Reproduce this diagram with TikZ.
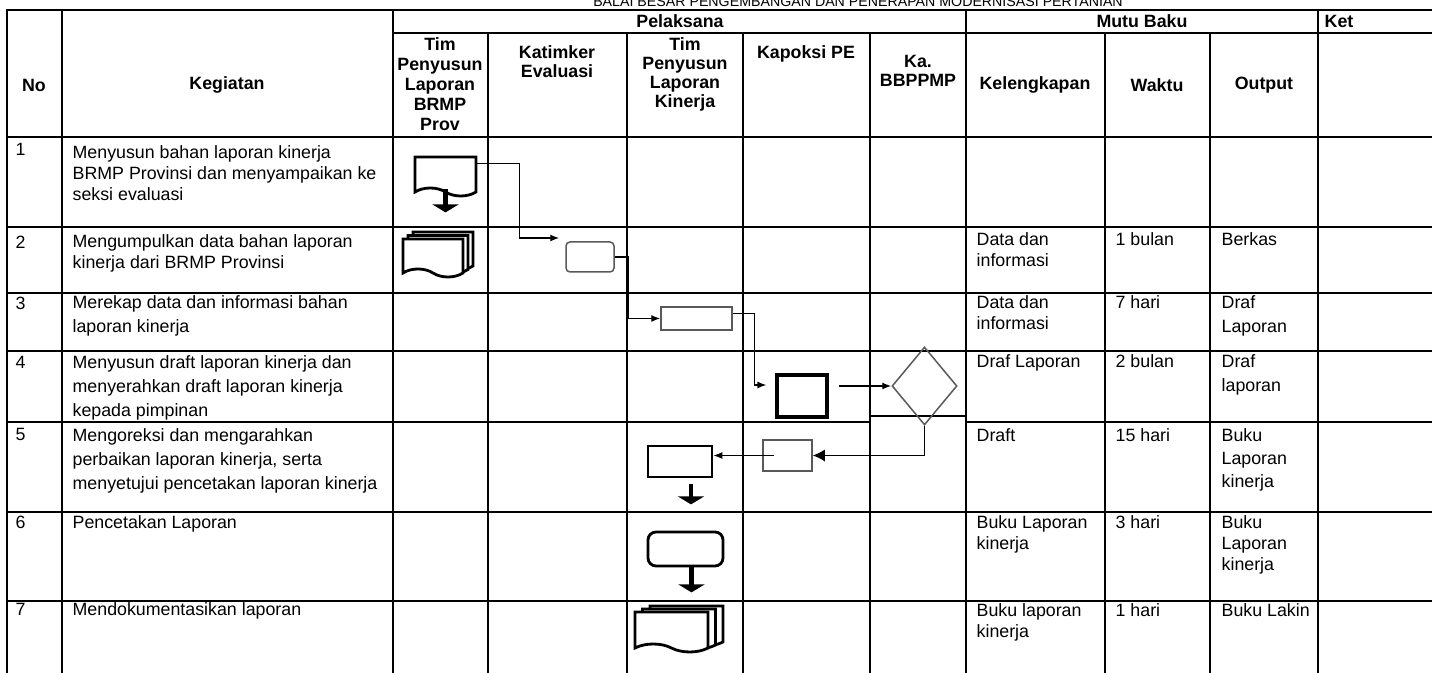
\documentclass[tikz,border=0pt]{standalone}
\usepackage{fontspec}
\setmainfont{Liberation Sans}
\usetikzlibrary{%
  arrows,%
  arrows.meta,%
  shapes,%
  shapes.geometric,% wg. diamond
  shapes.symbols,% wg. tape (dokumen)
  shadows,% wg. copy shadow
  positioning%
}

\begin{document}
\begin{tikzpicture}
  [
  x=0.5pt, y=-0.5pt,
  font=\fontsize{8.9}{10.5}\selectfont, line width=0.65pt, >={Latex[length=4.5pt,width=3.5pt]},
  grid/.style={line width=1pt, draw=black, line cap=rect},
  head/.style={font=\fontsize{8.9}{9.5}\selectfont\bfseries, align=center, inner sep=0pt},
  cell/.style={anchor=north west, align=left, inner sep=0pt},
  widecell/.style={cell, font=\fontsize{8.9}{12}\selectfont},
  doc/.style={tape, tape bend top=none, tape bend bottom=out and in, tape bend height=4pt, draw=black, line width=1.4pt, fill=white, inner sep=0pt},
  docstack/.style={doc, double copy shadow={draw=black, line width=1.4pt, fill=white, #1}},
  proc/.style={rectangle, draw=black!65, line width=0.75pt, inner sep=0pt},
  procb/.style={rectangle, draw=black, line width=1.4pt, inner sep=0pt},
  decide/.style={diamond, draw=black!65, line width=0.75pt, inner sep=0pt},
  bigflow/.style={-{Latex[length=6pt,width=6pt]}},
  down/.style={line width=2.4pt, -{Triangle[width=13pt,length=4pt]}}
  ]
\useasboundingbox (0,0) rectangle (1432,673);

% judul (terpotong di atas)
\node[font=\fontsize{7.1}{8}\selectfont, anchor=base, inner sep=0pt] (judul) at (858,7)
  {BALAI BESAR PENGEMBANGAN DAN PENERAPAN MODERNISASI PERTANIAN};

% garis tabel
\draw[grid] (7,10) -- (1432,10);
\draw[grid] (393,33) -- (1432,33);
\foreach \y in {137,227,293,351,512,601} {
  \draw[grid] (7,\y) -- (1432,\y);
}
\draw[grid] (7,422) -- (870,422);
\draw[grid] (870,416) -- (966,416);
\draw[grid] (966,422) -- (1432,422);
\foreach \x in {7,62,393,966,1318} {
  \draw[grid] (\x,10) -- (\x,673);
}
\foreach \x in {488,627,743,870,1105,1210} {
  \draw[grid] (\x,33) -- (\x,673);
}

% kepala tabel
\node[head] (hno) at (34,85) {No};
\node[head] (hkeg) at (227,85) {Kegiatan};
\node[head] (hpel) at (680,21) {Pelaksana};
\node[head] (hmutu) at (1142,21) {Mutu Baku};
\node[head, anchor=west] (hket) at (1324,21) {Ket};
\node[head, anchor=north, font=\fontsize{8.9}{10}\selectfont\bfseries] (hbrmp) at (440,37) {Tim\\Penyusun\\Laporan\\BRMP\\Prov};
\node[head, anchor=north] (heval) at (557,45) {Katimker\\Evaluasi};
\node[head, anchor=north] (hkin) at (685,37) {Tim\\Penyusun\\Laporan\\Kinerja};
\node[head, anchor=north] (hpe) at (806,45) {Kapoksi PE};
\node[head, anchor=north] (hka) at (918,55) {Ka.\\BBPPMP};
\node[head] (hkel) at (1035,85) {Kelengkapan};
\node[head] (hwak) at (1157,85) {Waktu};
\node[head] (hout) at (1264,85) {Output};

% nomor dan kegiatan
\foreach \n/\y in {1/143,2/235,3/296,4/356,5/428,6/515,7/603} {
  \node[cell] (no\n) at (15,\y) {\n};
}
\node[cell] (k1) at (72,145) {Menyusun bahan laporan kinerja\\BRMP Provinsi dan menyampaikan ke\\seksi evaluasi};
\node[cell] (k2) at (72,234) {Mengumpulkan data bahan laporan\\kinerja dari BRMP Provinsi};
\node[widecell] (k3) at (72,295) {Merekap data dan informasi bahan\\laporan kinerja};
\node[widecell] (k4) at (72,355) {Menyusun draft laporan kinerja dan\\menyerahkan draft laporan kinerja\\kepada pimpinan};
\node[widecell] (k5) at (72,428) {Mengoreksi dan mengarahkan\\perbaikan laporan kinerja, serta\\menyetujui pencetakan laporan kinerja};
\node[cell] (k6) at (72,515) {Pencetakan Laporan};
\node[cell] (k7) at (72,602) {Mendokumentasikan laporan};

% mutu baku
\node[cell] (kel2) at (976,232) {Data dan\\informasi};
\node[cell] (kel3) at (976,295) {Data dan\\informasi};
\node[cell] (kel4) at (976,354) {Draf Laporan};
\node[cell] (kel5) at (976,428) {Draft};
\node[cell] (kel6) at (976,515) {Buku Laporan\\kinerja};
\node[cell] (kel7) at (976,603) {Buku laporan\\kinerja};
\foreach \n/\y/\t in {2/232/1 bulan,3/295/7 hari,4/354/2 bulan,5/428/15 hari,6/515/3 hari,7/603/1 hari} {
  \node[cell] (wak\n) at (1115,\y) {\t};
}
\node[cell] (out2) at (1221,232) {Berkas};
\node[widecell] (out3) at (1221,295) {Draf\\Laporan};
\node[widecell] (out4) at (1221,354) {Draf\\laporan};
\node[cell, font=\fontsize{8.9}{11.5}\selectfont] (out5) at (1221,428) {Buku\\Laporan\\kinerja};
\node[cell] (out6) at (1221,515) {Buku\\Laporan\\kinerja};
\node[cell] (out7) at (1221,603) {Buku Lakin};

% simbol alur
\node[doc, minimum width=30.5pt, minimum height=19.5pt] (d1) at (445.5,172.5) {};
\node[docstack={shadow xshift=2.5pt, shadow yshift=1.75pt}, minimum width=30pt, minimum height=19pt] (d2) at (433,254) {};
\node[proc, rounded corners=2pt, minimum width=24pt, minimum height=15pt] (rr2) at (590,257) {};
\node[proc, minimum width=35.5pt, minimum height=11.5pt] (r3) at (696.5,318.5) {};
\node[procb, line width=1.6pt, minimum width=25pt, minimum height=21pt] (r4) at (802,396) {};
\node[decide, minimum width=32.5pt, minimum height=39pt] (dm) at (924.5,386) {};
\node[proc, minimum width=24.5pt, minimum height=15.5pt] (r5b) at (787.5,455.5) {};
\node[procb, minimum width=32pt, minimum height=15.5pt] (r5a) at (680,461.5) {};
\node[procb, rounded corners=4pt, minimum width=37.5pt, minimum height=17pt] (rr6) at (685.5,549) {};
\node[docstack={shadow xshift=3.75pt, shadow yshift=1.5pt}, minimum width=36.5pt, minimum height=20pt] (d7) at (671.5,628) {};

% panah alur
\draw[->] ([yshift=4.5pt]d1.east) -- ++(42,0) |- ([xshift=-3pt,yshift=9.5pt]rr2.west);
\draw[->] (rr2.east) -- ++(14,0) |- (r3.west);
\draw[->] ([yshift=2.5pt]r3.east) -- ++(22,0) |- ([xshift=-4.5pt,yshift=5.5pt]r4.west);
\draw[->] ([xshift=5pt]r4.east |- dm.west) -- (dm.west);
\draw[bigflow] (dm.south) |- (r5b.east);
\draw[->] ([xshift=6pt]r5b.west) -- (r5b.west -| r5a.east);

\draw[down] (d1.south) -- ++(0,23);
\draw[down] ([xshift=5.5pt,yshift=-3pt]r5a.south) -- ++(0,20);
\draw[down] ([xshift=3pt]rr6.south) -- ++(0,25);
\end{tikzpicture}
\end{document}
